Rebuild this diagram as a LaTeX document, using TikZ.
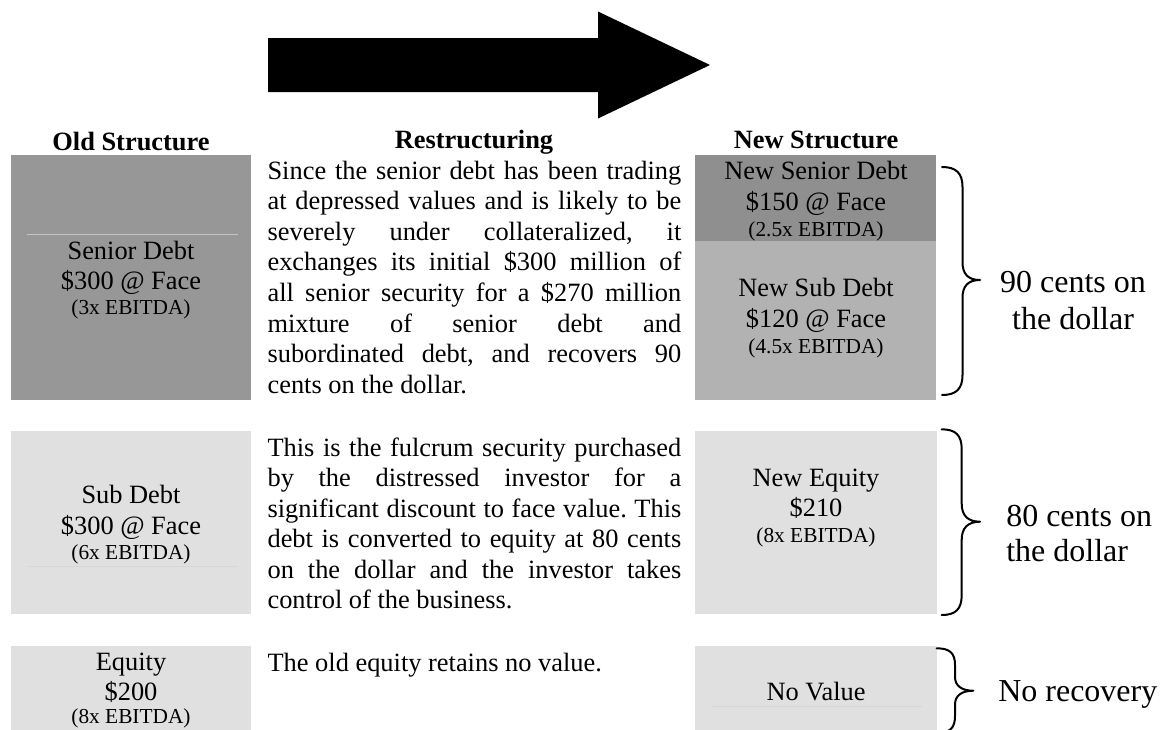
\documentclass[tikz,border=0pt]{standalone}
\usepackage{fontspec}
\setmainfont{Liberation Serif}
\definecolor{seniorold}{RGB}{151,151,151}
\definecolor{seniornew}{RGB}{143,143,143}
\definecolor{subnew}{RGB}{178,178,178}
\definecolor{lightbox}{RGB}{224,224,224}
\definecolor{faintdark}{RGB}{170,170,170}
\definecolor{faintlight}{RGB}{214,214,214}
\frenchspacing
\newcommand{\jline}[1]{\makebox[310.3pt][s]{#1}}
\begin{document}
\begin{tikzpicture}[x=0.75pt,y=-0.75pt,
  txt/.style={font=\fontsize{19.8}{22.8}\selectfont, inner sep=0pt},
  smalltxt/.style={font=\fontsize{16}{18.4}\selectfont, inner sep=0pt},
  bigtxt/.style={font=\fontsize{24}{27.6}\selectfont, inner sep=0pt},
  hdr/.style={font=\bfseries\fontsize{19.8}{22.8}\selectfont, inner sep=0pt},
  bracestroke/.style={line width=1.5pt, line join=round, line cap=round},
  faint/.style={line width=0.6pt}]
\clip (0,0) rectangle (1173,729);
\fill[white] (0,0) rectangle (1173,729);

% big arrow
\fill[black] (268,38) -- (598,38) -- (598,11.5) -- (710,65) -- (598,118.5) -- (598,92) -- (268,92) -- cycle;

% headers
\node[hdr, anchor=base] (hold) at (131,150) {Old Structure};
\node[hdr, anchor=base] (hres) at (474,148.5) {Restructuring};
\node[hdr, anchor=base] (hnew) at (816,148.5) {New Structure};

% old structure boxes
\fill[seniorold] (11,155) rectangle (251,400);
\draw[faint, faintdark!70!white] (27,234.3) -- (238,234.3);
\fill[lightbox] (11,431) rectangle (251,614.3);
\draw[faint, faintlight] (27,566.7) -- (238,566.7);
\fill[lightbox] (11,646) rectangle (251,740);

% new structure boxes
\fill[seniornew] (695.3,155) rectangle (936,241);
\fill[subnew] (695.3,241) rectangle (936,400);
\fill[lightbox] (695.3,431) rectangle (936.7,614.3);
\fill[lightbox] (695.3,646) rectangle (936.7,740);
\draw[faint, faintlight] (711.7,706.7) -- (921.7,706.7);

% old structure texts
\node[txt, anchor=base] (os1) at (131,259) {Senior Debt};
\node[txt, anchor=base] (os2) at (131,289.3) {\$300 @ Face};
\node[smalltxt, anchor=base] (os3) at (131,314) {(3x EBITDA)};
\node[txt, anchor=base] (ob1) at (131,503.5) {Sub Debt};
\node[txt, anchor=base] (ob2) at (131,534) {\$300 @ Face};
\node[smalltxt, anchor=base] (ob3) at (131,559.5) {(6x EBITDA)};
\node[txt, anchor=base] (oe1) at (131,670.7) {Equity};
\node[txt, anchor=base] (oe2) at (131,700.7) {\$200};
\node[smalltxt, anchor=base] (oe3) at (131,723) {(8x EBITDA)};

% new structure texts
\node[txt, anchor=base] (ns1) at (816,179) {New Senior Debt};
\node[txt, anchor=base] (ns2) at (816,210) {\$150 @ Face};
\node[smalltxt, anchor=base] (ns3) at (816,236) {(2.5x EBITDA)};
\node[txt, anchor=base] (nb1) at (816,296.7) {New Sub Debt};
\node[txt, anchor=base] (nb2) at (816,327.3) {\$120 @ Face};
\node[smalltxt, anchor=base] (nb3) at (816,353.3) {(4.5x EBITDA)};
\node[txt, anchor=base] (ne1) at (816,486) {New Equity};
\node[txt, anchor=base] (ne2) at (816,516.7) {\$210};
\node[smalltxt, anchor=base] (ne3) at (816,542.7) {(8x EBITDA)};
\node[txt, anchor=base] (nv1) at (816,700) {No Value};

% restructuring paragraph 1
\node[txt, anchor=base west] (r1a) at (267.3,179.3) {\jline{Since the senior debt has been trading}};
\node[txt, anchor=base west] (r1b) at (267.3,209.8) {\jline{at depressed values and is likely to be}};
\node[txt, anchor=base west] (r1c) at (267.3,240.4) {\jline{severely under collateralized, it}};
\node[txt, anchor=base west] (r1d) at (267.3,270.9) {\jline{exchanges its initial \$300 million of}};
\node[txt, anchor=base west] (r1e) at (267.3,301.4) {\jline{all senior security for a \$270 million}};
\node[txt, anchor=base west] (r1f) at (267.3,332.0) {\jline{mixture of senior debt and}};
\node[txt, anchor=base west] (r1g) at (267.3,362.5) {\jline{subordinated debt, and recovers 90}};
\node[txt, anchor=base west] (r1h) at (267.3,393.0) {cents on the dollar.};

% restructuring paragraph 2
\node[txt, anchor=base west] (r2a) at (267.3,456) {\jline{This is the fulcrum security purchased}};
\node[txt, anchor=base west] (r2b) at (267.3,486.5) {\jline{by the distressed investor for a}};
\node[txt, anchor=base west] (r2c) at (267.3,517) {\jline{significant discount to face value. This}};
\node[txt, anchor=base west] (r2d) at (267.3,547.5) {\jline{debt is converted to equity at 80 cents}};
\node[txt, anchor=base west] (r2e) at (267.3,578) {\jline{on the dollar and the investor takes}};
\node[txt, anchor=base west] (r2f) at (267.3,608.5) {control of the business.};

% restructuring paragraph 3
\node[txt, anchor=base west] (r3a) at (267.3,671) {The old equity retains no value.};

% braces
\draw[bracestroke] (942,167) .. controls (956,167) and (962.5,173) .. (962.5,187)
  -- (962.5,262) .. controls (962.5,274) and (968,280) .. (980,280)
  .. controls (968,280) and (962.5,286) .. (962.5,298)
  -- (962.5,375) .. controls (962.5,389) and (956,395) .. (942,395);
\draw[bracestroke] (941.7,429.3) .. controls (955.7,429.3) and (961.7,435.3) .. (961.7,449.3)
  -- (961.7,503.7) .. controls (961.7,515.7) and (968,521.7) .. (980,521.7)
  .. controls (968,521.7) and (961.7,527.7) .. (961.7,539.7)
  -- (961.7,595) .. controls (961.7,609) and (955.7,615) .. (941.7,615);
\draw[bracestroke] (936.7,648.3) .. controls (950,648.3) and (955,653.3) .. (955,665)
  -- (955,677) .. controls (955,686) and (962,690.7) .. (973.3,690.7)
  .. controls (962,690.7) and (955,695.4) .. (955,704.4)
  -- (955,716) .. controls (955,728) and (950,733) .. (936.7,733);

% brace labels
\node[bigtxt, anchor=base] (l1a) at (1073,292) {90 cents on};
\node[bigtxt, anchor=base] (l1b) at (1073,329) {the dollar};
\node[bigtxt, anchor=base west] (l2a) at (1006,526) {80 cents on};
\node[bigtxt, anchor=base west] (l2b) at (1006,561.7) {the dollar};
\node[bigtxt, anchor=base west] (l3a) at (998,701.7) {No recovery};
\end{tikzpicture}
\end{document}
